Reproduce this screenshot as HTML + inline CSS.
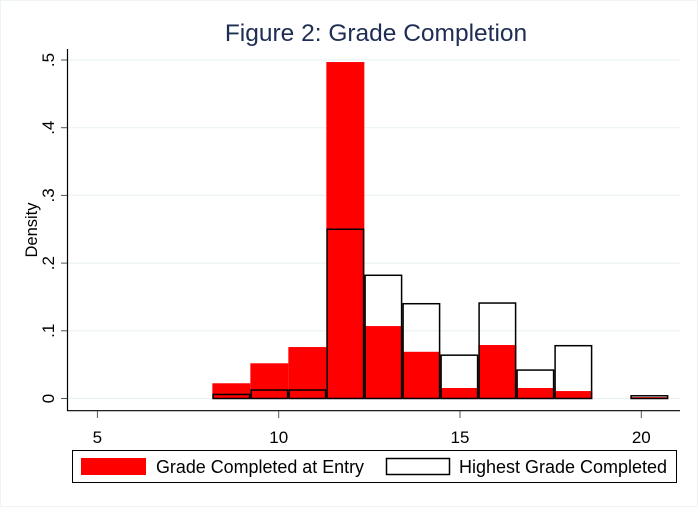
<!DOCTYPE html>
<html><head><meta charset="utf-8"><style>
html,body{margin:0;padding:0;background:#fff}
svg{display:block;font-family:"Liberation Sans",Arial,sans-serif}
</style></head><body>
<svg id="chart" width="698" height="507" viewBox="0 0 698 507">
<rect x="0.5" y="0.5" width="697" height="506" fill="#fff" stroke="#eef3f4"/>
<text x="376" y="41" text-anchor="middle" font-size="24.5" fill="#1e2d53">Figure 2: Grade Completion</text>
<g id="grid"></g>
<g id="bars"></g>
<g id="axes"></g>
<text transform="translate(37,230) rotate(-90)" text-anchor="middle" font-size="16.5" fill="#000">Density</text>
<g>
<rect x="72.5" y="450.5" width="604" height="32" fill="#fff" stroke="#000"/>
<rect x="81" y="458" width="65" height="17" fill="#ff0000"/>
<text x="156" y="473" font-size="18" textLength="208" lengthAdjust="spacingAndGlyphs" fill="#000">Grade Completed at Entry</text>
<rect x="386.5" y="458.5" width="63" height="16" fill="#fff" stroke="#000" stroke-width="1.5"/>
<text x="459" y="473" font-size="18" textLength="208" lengthAdjust="spacingAndGlyphs" fill="#000">Highest Grade Completed</text>
</g>
</svg>
<script>
const binStart = 8.17;
const binWidth = 1.048;
const entryDensity = [0.0225,0.052,0.076,0.497,0.107,0.069,0.0155,0.079,0.0155,0.011,0,0.002];
const highestDensity = [0.006,0.0125,0.0125,0.25,0.182,0.14,0.064,0.141,0.042,0.078,0,0.004];
const xTicks = [5,10,15,20];
const yTicks = [0,0.1,0.2,0.3,0.4,0.5];
const yTickLabels = ["0",".1",".2",".3",".4",".5"];

const NS="http://www.w3.org/2000/svg";
const xs = v => 97.4 + (v-5)*36.26;
const ys = v => 398.5 - v*677;
function mk(tag, attrs, parent){const e=document.createElementNS(NS,tag);for(const k in attrs)e.setAttribute(k,attrs[k]);parent.appendChild(e);return e;}
const grid=document.getElementById('grid'), bars=document.getElementById('bars'), axes=document.getElementById('axes');

yTicks.forEach((t,i)=>{
  const y=ys(t);
  const g=mk('line',{x1:68,x2:680,y1:y,y2:y,stroke:'#eaf2f3','stroke-width':1.2},grid);
  
  
  const tk=mk('line',{x1:61,x2:68,y1:y,y2:y,stroke:'#555','stroke-width':1},axes);
  
  
  const lb=mk('text',{transform:`translate(54,${y}) rotate(-90)`,'text-anchor':'middle','font-size':17,fill:'#000'},axes);
  lb.textContent=yTickLabels[i];
  
  
});
entryDensity.forEach((v,i)=>{
  const x0=xs(binStart+i*binWidth), x1=xs(binStart+(i+1)*binWidth);
  const h=Math.abs(ys(v)-ys(0));
  const r=mk('rect',{x:x0,y:ys(v),width:x1-x0,height:h,fill:'#ff0000'},bars);
  
  
});
highestDensity.forEach((v,i)=>{
  const x0=xs(binStart+i*binWidth), x1=xs(binStart+(i+1)*binWidth);
  const h=ys(0)-ys(v);
  if(v<=0) return;
  const r=mk('rect',{x:x0+0.75,y:ys(v),width:x1-x0-1.5,height:h,fill:'none',stroke:'#000','stroke-width':1.5},bars);
  
  
});
const ya=mk('line',{x1:67.5,x2:67.5,y1:49,y2:411,stroke:'#000','stroke-width':1.2},axes);


const xa=mk('line',{x1:67,x2:680,y1:410.7,y2:410.7,stroke:'#000','stroke-width':1.2},axes);


xTicks.forEach(t=>{
  const x=xs(t);
  const tk=mk('line',{x1:x,x2:x,y1:411,y2:418,stroke:'#555','stroke-width':1},axes);
  
  
  const lb=mk('text',{x:x,y:443,'text-anchor':'middle','font-size':17,fill:'#000'},axes);
  lb.textContent=String(t);
  
  
});
</script>
</body></html>
